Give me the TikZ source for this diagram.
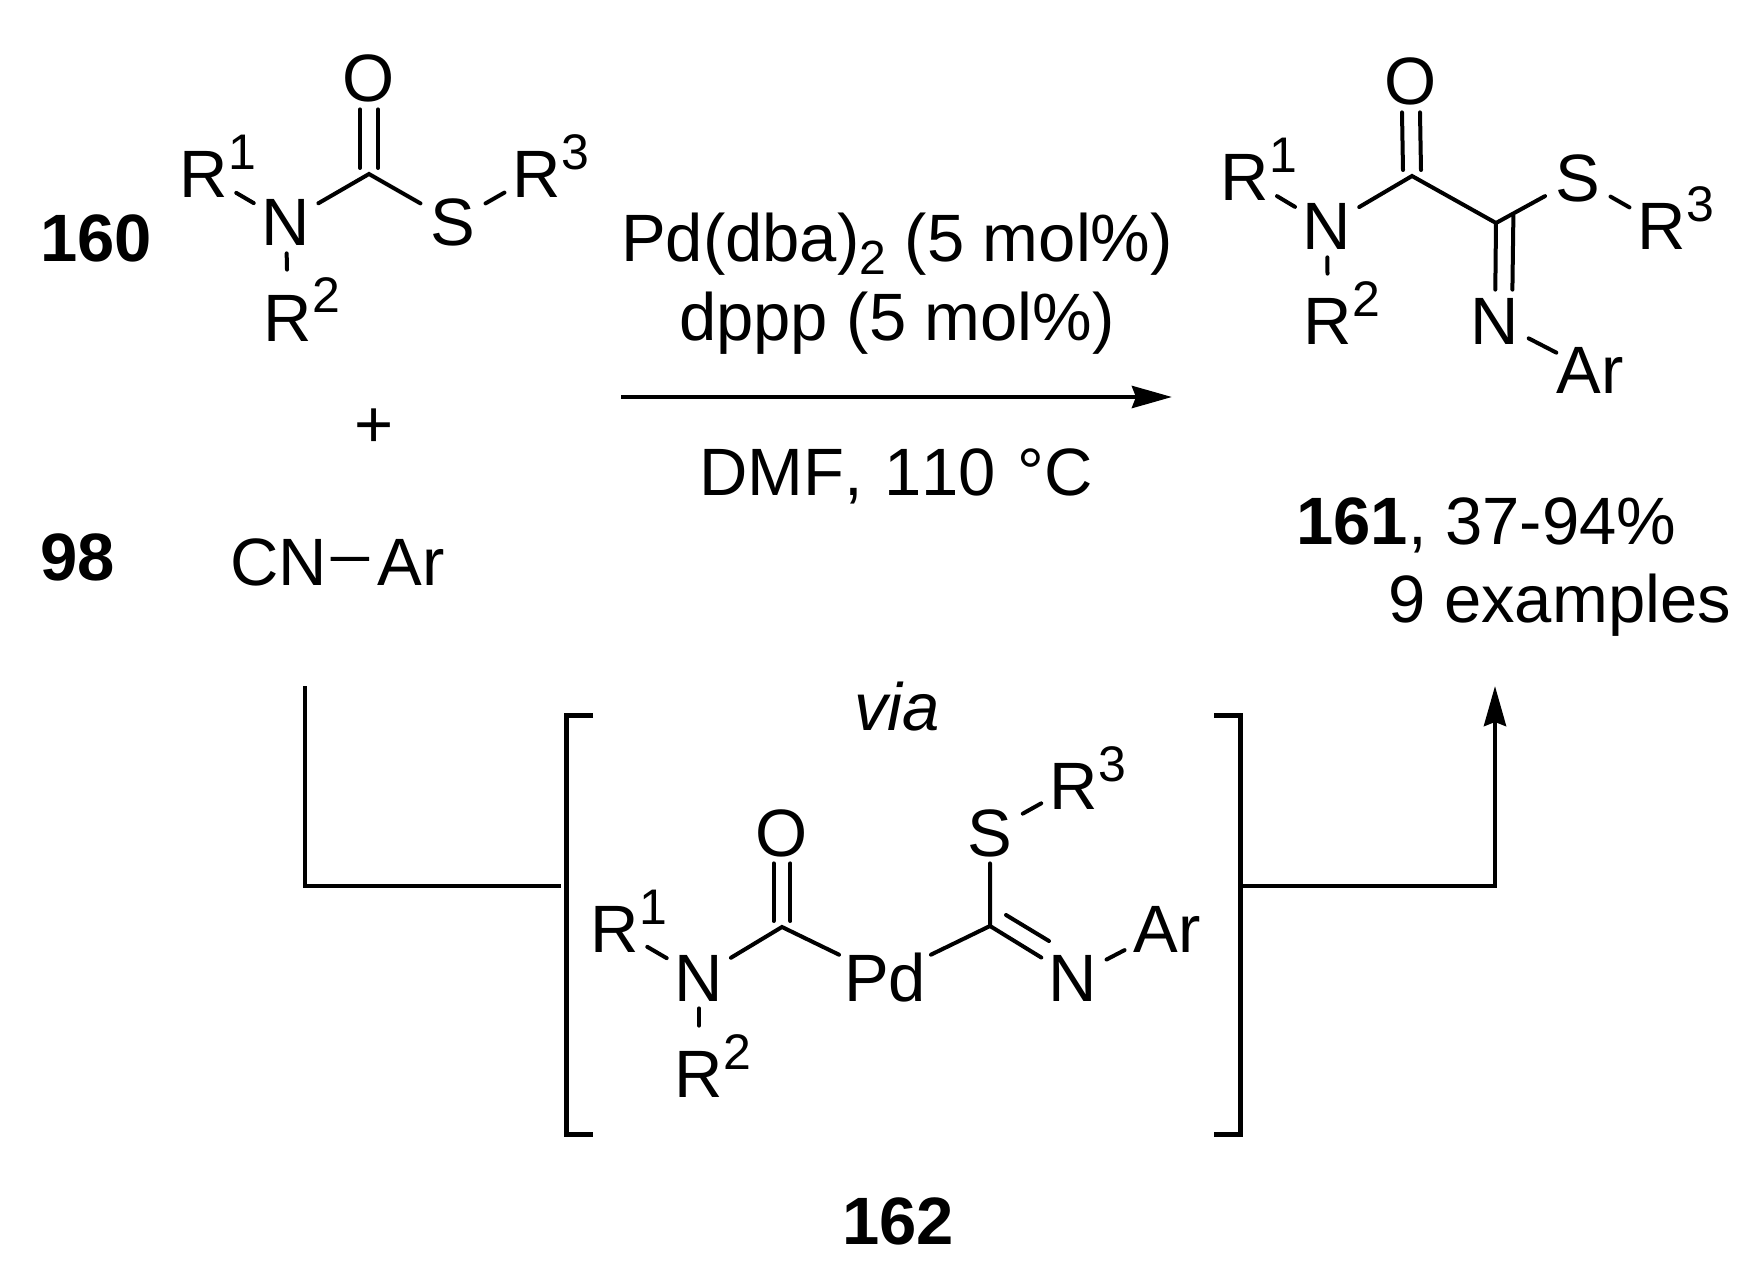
\documentclass[tikz,border=0pt]{standalone}
\usepackage{fontspec}
\setmainfont{Liberation Sans}
\usetikzlibrary{arrows.meta, shapes.geometric}
\newcommand{\atm}[1]{\makebox[0pt]{\raisebox{-12pt}[0pt][0pt]{#1}}}
\newcommand{\supnum}[1]{\rlap{\smash{\raisebox{14pt}{\fontsize{25}{25}\selectfont #1}}}}
\newcommand{\Rgroup}[1]{\atm{R\supnum{#1}}}
\tikzset{
    every node/.style={font=\fontsize{33.5}{40}\selectfont},
    atom/.style={ellipse, inner sep=0pt, minimum width=40pt, minimum height=31pt},
    bigatom/.style={atom, minimum width=65pt},
    caption/.style={inner sep=0pt, anchor=base west},
    condition/.style={inner sep=0pt, anchor=base},
    bond/.style={line width=2pt, line cap=round},
    longbond/.style={bond, shorten >=8pt},
    arylbond/.style={bond, shorten >=5pt},
    bracket/.style={line width=2.5pt, line join=miter},
    flow/.style={line width=2.3pt},
    flowtip/.style={-{Stealth[length=20pt, width=11pt, inset=2pt]}}
}
\begin{document}
\begin{tikzpicture}[x=.5pt, y=-.5pt]
    \useasboundingbox (0,0) rectangle (1753,1284);

    % carbamothioate
    \node[atom] (Oa)  at (369,78)  {\atm{O}};
    \node[atom] (Na)  at (286,222) {\atm{N}};
    \node[atom] (Sa)  at (453,222) {\atm{S}};
    \node[atom] (R1a) at (204,174) {\Rgroup{1}};
    \node[atom] (R2a) at (288,317) {\Rgroup{2}};
    \node[atom] (R3a) at (537,174) {\Rgroup{3}};
    \coordinate (Ca) at (369,174);
    \draw[bond] (R1a) -- (Na);
    \draw[longbond] (Na) -- (R2a);
    \draw[bond] (Na) -- (Ca) -- (Sa);
    \draw[bond] (Sa) -- (R3a);
    \draw[bond] ([xshift=-4.5pt]Oa.south) -- ([shift={(-4.5pt,3pt)}]Ca.center);
    \draw[bond] ([xshift=4.5pt]Oa.south) -- ([shift={(4.5pt,3pt)}]Ca.center);

    \node[caption] (num160) at (40,262) {\bfseries 160};
    \node[atom] (plus) at (374,423) {\atm{+}};
    \node[caption] (num98) at (40,580) {\bfseries 98};
    \node[caption, inner xsep=1.5pt] (CN) at (227,585) {CN};
    \node[caption, inner xsep=4pt] (ArCN) at (369,585) {Ar};
    \draw[bond, line cap=butt] ([yshift=1.5pt]CN.east) -- ([yshift=1.5pt]ArCN.west);

    % conditions
    \node[condition] (catalyst) at (897,262) {Pd(dba)\raisebox{-6.5pt}{\fontsize{24}{24}\selectfont 2} (5 mol\%)};
    \node[condition] (ligand)   at (897,340) {dppp (5 mol\%)};
    \node[condition] (solvent)  at (896,495) {\addfontfeature{Kerning=Off}DMF,\hspace{1.5pt} 110\hspace{1.5pt} °C};
    \coordinate (arrowL) at (621,397);
    \coordinate (arrowR) at (1172,397);
    \draw[flow, flowtip] (arrowL) -- (arrowR);

    % product
    \node[atom] (Ob)  at (1411,81)  {\atm{O}};
    \node[atom] (Nb)  at (1327,226) {\atm{N}};
    \node[atom] (Sb)  at (1578,178) {\atm{S}};
    \node[atom] (Nc)  at (1495,321) {\atm{N}};
    \node[atom] (R1b) at (1245,177) {\Rgroup{1}};
    \node[atom] (R2b) at (1328,321) {\Rgroup{2}};
    \node[atom] (R3b) at (1662,226) {\Rgroup{3}};
    \node[atom] (Arb) at (1590,370) {\atm{Ar}};
    \coordinate (Cb) at (1412,176);
    \coordinate (Cc) at (1496,223);
    \draw[bond] (R1b) -- (Nb);
    \draw[longbond] (Nb) -- (R2b);
    \draw[bond] (Nb) -- (Cb) -- (Cc) -- (Sb);
    \draw[bond] (Sb) -- (R3b);
    \draw[bond] (Nc) -- (Arb);
    \draw[bond] ([xshift=-4.5pt]Ob.south) -- ([shift={(-4.5pt,3pt)}]Cb.center);
    \draw[bond] ([xshift=4.5pt]Ob.south) -- ([shift={(4.5pt,3pt)}]Cb.center);
    \draw[bond] (Cc) -- (Nc);
    \draw[bond] ([shift={(8.7pt,3.75pt)}]Cc.center) -- ([xshift=8.7pt]Nc.north);

    \node[caption] (yield) at (1296,544) {\textbf{161}, 37-94\%};
    \node[caption] (scope) at (1388,622) {9 examples};

    % intermediate
    \node[condition] (via) at (897,730) {\itshape via};
    \node[atom] (Od)  at (782,832)  {\atm{O}};
    \node[atom] (Nd)  at (699,977)  {\atm{N}};
    \node[bigatom] (Pd) at (885,977) {\atm{Pd}};
    \node[atom] (Sd)  at (990,832)  {\atm{S}};
    \node[atom] (Ne)  at (1073,977) {\atm{N}};
    \node[atom] (R1d) at (615,928)  {\Rgroup{1}};
    \node[atom] (R2d) at (699,1073) {\Rgroup{2}};
    \node[atom] (R3d) at (1074,785) {\Rgroup{3}};
    \node[atom] (Ard) at (1167,928) {\atm{Ar}};
    \coordinate (Cd) at (782,927);
    \coordinate (Ce) at (990,926);
    \coordinate (dblA) at (1006,915);
    \coordinate (dblB) at (1049,941);
    \draw[bond] (R1d) -- (Nd);
    \draw[longbond] (Nd) -- (R2d);
    \draw[bond] (Nd) -- (Cd) -- (Pd) -- (Ce) -- (Sd);
    \draw[bond] (Sd) -- (R3d);
    \draw[bond] (Ce) -- (Ne);
    \draw[bond] (dblA) -- (dblB);
    \draw[arylbond] (Ne) -- (Ard);
    \draw[bond] ([xshift=-4.2pt]Od.south) -- ([shift={(-4.2pt,3pt)}]Cd.center);
    \draw[bond] ([xshift=4.2pt]Od.south) -- ([shift={(4.2pt,3pt)}]Cd.center);

    % brackets
    \coordinate (brLa) at (593,715);
    \coordinate (brLb) at (566,715);
    \coordinate (brLc) at (566,1134);
    \coordinate (brLd) at (593,1134);
    \coordinate (brRa) at (1214,715);
    \coordinate (brRb) at (1240,715);
    \coordinate (brRc) at (1240,1134);
    \coordinate (brRd) at (1214,1134);
    \draw[bracket] (brLa) -- (brLb) -- (brLc) -- (brLd);
    \draw[bracket] (brRa) -- (brRb) -- (brRc) -- (brRd);

    \node[condition] (num162) at (898,1244) {\bfseries 162};

    % routing through the intermediate
    \coordinate (inTop) at (305,686);
    \coordinate (inEnd) at (561,886);
    \coordinate (outStart) at (1240,886);
    \coordinate (outTip) at (1495,686);
    \draw[flow] (inTop) |- (inEnd);
    \draw[flow, flowtip] (outStart) -| (outTip);
\end{tikzpicture}
\end{document}
